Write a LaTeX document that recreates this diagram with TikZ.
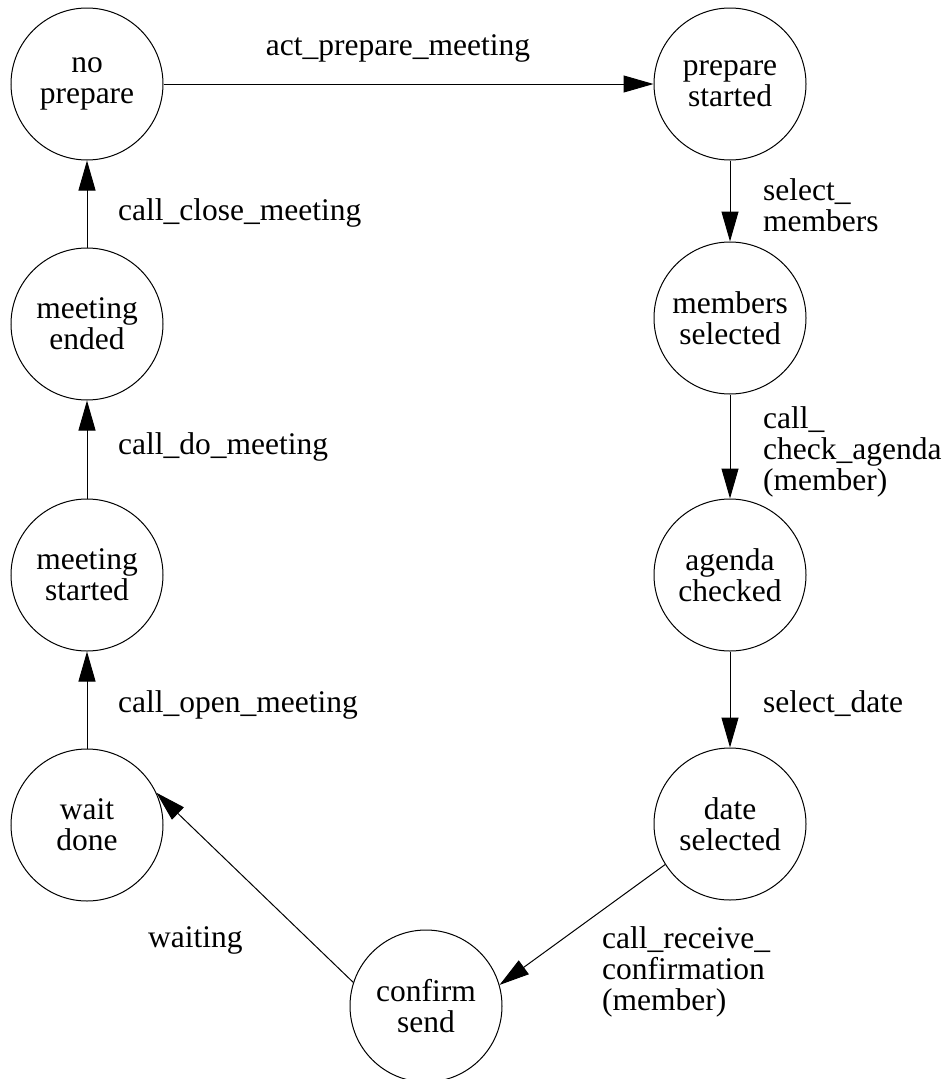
\documentclass[tikz,border=0pt]{standalone}
\usepackage{fontspec}
\setmainfont{Liberation Serif}
\usetikzlibrary{arrows.meta}
\tikzset{
  state/.style={draw, circle, line width=1pt, minimum size=152pt, inner sep=0pt, align=center},
  lbl/.style={inner sep=0pt, align=left, anchor=base west},
  trans/.style={line width=1pt, -{Triangle[length=30pt,width=17pt]}},
  every node/.style={font=\fontsize{31.5}{31}\selectfont}
}
\begin{document}
\begin{tikzpicture}[x=1pt,y=-1pt]
\useasboundingbox (0,0) rectangle (947,1079);
\node[state] (np)  at (87,84)   {no\\prepare};
\node[state] (ps)  at (730,84)  {prepare\\started};
\node[state] (ms)  at (730,318) {members\\selected};
\node[state] (ac)  at (730,575) {agenda\\checked};
\node[state] (ds)  at (730,824) {date\\selected};
\node[state] (cs)  at (426,1006) {confirm\\send};
\node[state] (wd)  at (87,825)  {wait\\done};
\node[state] (mst) at (87,575)  {meeting\\started};
\node[state] (me)  at (87,324)  {meeting\\ended};

\draw[trans] (np) -- (ps);
\draw[trans] (ps) -- (ms);
\draw[trans] (ms) -- (ac);
\draw[trans] (ac) -- (ds);
\draw[trans] (ds.212) -- (cs.16);
\draw[trans] (cs.162.5) -- (wd.25);
\draw[trans] (wd) -- (mst);
\draw[trans] (mst) -- (me);
\draw[trans] (me) -- (np);

\node[lbl, anchor=base] (l1) at (398,55) {act\_prepare\_meeting};
\node[lbl] (l2) at (118,220) {call\_close\_meeting};
\node[lbl] (l3) at (118,454) {call\_do\_meeting};
\node[lbl] (l4) at (118,712) {call\_open\_meeting};
\node[lbl] (l5) at (763,231) {select\_\\members};
\node[lbl] (l6) at (763,490) {call\_\\check\_agenda\\(member)};
\node[lbl] (l7) at (763,712) {select\_date};
\node[lbl] (l8) at (148,947) {waiting};
\node[lbl] (l9) at (602,1010) {call\_receive\_\\confirmation\\(member)};
\end{tikzpicture}
\end{document}
